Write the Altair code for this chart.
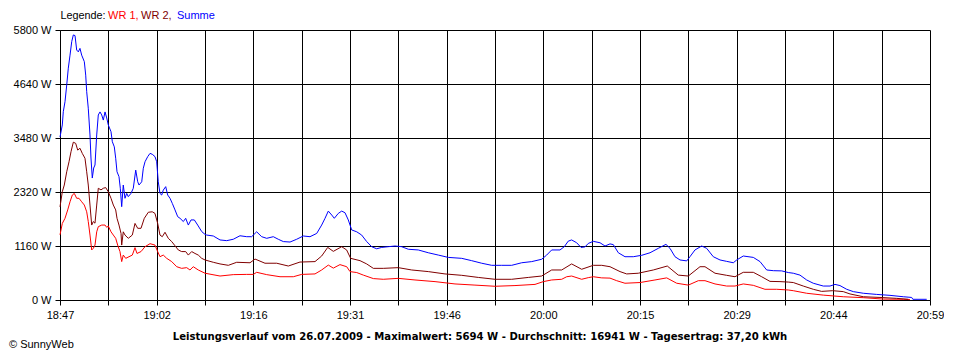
import json
import altair as alt
import pandas as pd

FONT = "Liberation Sans"

# ---- axis text ----
x_labels = ["18:47", "19:02", "19:16", "19:31", "19:46", "20:00", "20:15", "20:29", "20:44", "20:59"]
y_ticks = [0, 1160, 2320, 3480, 4640, 5800]
span_min = 132  # minutes from 18:47 to 20:59
n_x_grid = 18   # vertical grid intervals

title_text = "Leistungsverlauf vom 26.07.2009 - Maximalwert: 5694 W - Durchschnitt: 16941 W - Tagesertrag: 37,20 kWh"

# ---- data: minutes after 18:47, power in W ----
summe_t = [0.0, 0.35, 0.5, 0.76, 1.02, 1.26, 1.52, 1.78, 2.02, 2.28,
           2.53, 2.78, 3.03, 3.29, 3.69, 3.9, 4.05, 4.29, 4.55, 4.7,
           4.9, 5.11, 5.31, 5.57, 5.81, 6.07, 6.33, 6.57, 6.83, 7.09,
           7.33, 7.74, 7.94, 8.24, 8.45, 8.65, 8.95, 9.15, 9.36, 9.6,
           9.86, 10.12, 10.36, 10.77, 11.12, 11.49, 11.79, 11.99, 12.4, 12.64,
           12.9, 13.31, 13.66, 14.0, 14.41, 14.67, 14.91, 15.17, 15.43, 15.67,
           16.04, 16.34, 16.69, 17.04, 17.45, 17.86, 18.21, 18.71, 19.07, 19.47,
           19.88, 20.38, 20.89, 21.5, 22.0, 22.26, 23.26, 24.28, 25.29, 26.29,
           27.31, 28.33, 29.08, 29.84, 30.6, 31.36, 32.36, 33.12, 33.88, 34.9,
           35.91, 36.91, 37.93, 38.95, 39.7, 40.21, 40.71, 41.23, 41.62, 42.22,
           42.74, 43.24, 43.74, 44.26, 45.02, 45.77, 46.53, 47.29, 48.05, 48.81,
           49.81, 50.83, 51.84, 52.85, 54.36, 55.88, 57.4, 58.91, 60.95, 62.46,
           63.98, 65.5, 67.02, 68.53, 70.05, 71.57, 73.08, 73.84, 74.6, 75.86,
           76.51, 77.12, 77.63, 78.39, 79.05, 79.65, 80.15, 80.91, 81.93, 82.69,
           83.45, 83.95, 84.71, 85.72, 86.98, 88.26, 89.52, 90.78, 91.94, 92.55,
           93.31, 94.07, 95.09, 95.58, 96.34, 97.36, 98.11, 99.12, 100.14, 101.15,
           102.16, 102.67, 103.67, 105.19, 106.21, 107.22, 108.23, 109.5, 110.5, 111.26,
           112.27, 113.29, 114.29, 115.81, 116.83, 117.59, 118.34, 119.36, 120.36, 121.88,
           123.91, 125.93, 127.95, 129.22, 129.4, 131.5]
summe_w = [3500, 3760, 4045, 4260, 4620, 4980, 5260, 5550, 5694, 5680,
           5370, 5330, 5405, 5260, 5120, 4830, 4475, 4120, 3545, 3050,
           2620, 2835, 2900, 3545, 3975, 4040, 3975, 3865, 4040, 3910,
           3760, 3615, 3400, 3290, 3045, 2755, 2650, 2400, 2005, 2470,
           2185, 2290, 2220, 2290, 2400, 2790, 2540, 2470, 2540, 2830,
           2970, 3080, 3150, 3130, 3080, 2970, 2540, 2290, 2255, 2360,
           2435, 2255, 2185, 2075, 1935, 1790, 1755, 1685, 1755, 1610,
           1720, 1720, 1610, 1470, 1410, 1395, 1375, 1290, 1275, 1305,
           1380, 1360, 1360, 1465, 1360, 1325, 1360, 1305, 1255, 1245,
           1305, 1375, 1360, 1430, 1610, 1755, 1910, 1825, 1755, 1860,
           1910, 1875, 1720, 1505, 1465, 1395, 1255, 1145, 1100, 1130,
           1145, 1160, 1145, 1090, 1075, 1015, 965, 915, 895, 845,
           790, 745, 745, 745, 800, 825, 875, 965, 1075, 1075,
           1145, 1265, 1290, 1230, 1130, 1140, 1215, 1260, 1230, 1160,
           1205, 1190, 1015, 930, 930, 960, 1015, 1110, 1195, 1110,
           930, 860, 840, 930, 1075, 1160, 1110, 930, 860, 830,
           800, 860, 945, 915, 825, 645, 630, 625, 590, 575,
           535, 430, 360, 300, 300, 335, 310, 230, 180, 145,
           120, 100, 70, 55, 15, 15]

wr1_t = [0.0, 0.35, 0.76, 1.17, 1.52, 1.87, 2.17, 2.53, 2.88, 3.29,
         3.69, 4.05, 4.29, 4.55, 4.81, 5.05, 5.31, 5.57, 5.81, 6.33,
         6.83, 7.09, 7.33, 7.74, 8.09, 8.45, 8.75, 9.1, 9.36, 9.6,
         9.97, 10.47, 10.97, 11.38, 11.68, 12.29, 12.9, 13.66, 14.41, 14.82,
         15.17, 15.67, 16.19, 16.95, 17.71, 18.46, 19.22, 19.72, 20.22, 20.98,
         22.0, 24.28, 26.29, 28.33, 29.33, 29.84, 31.36, 33.38, 35.4, 36.67,
         38.69, 39.7, 40.71, 41.47, 42.48, 43.5, 44.0, 45.02, 46.02, 47.54,
         49.05, 51.33, 53.86, 56.9, 59.93, 62.96, 66.0, 69.03, 72.07, 73.33,
         74.6, 76.12, 76.88, 77.63, 79.15, 80.15, 80.91, 82.19, 83.45, 84.46,
         85.72, 88.0, 90.27, 92.05, 93.57, 95.33, 96.85, 97.86, 99.38, 101.15,
         102.41, 103.67, 105.19, 106.96, 108.74, 110.5, 111.26, 113.29, 115.81, 118.84,
         121.88, 124.91, 127.95, 128.96]
wr1_w = [1400, 1645, 1755, 1935, 2110, 2255, 2290, 2185, 2185, 2110,
         2040, 1895, 1685, 1395, 1075, 1110, 1180, 1465, 1575, 1610,
         1610, 1560, 1590, 1465, 1395, 1325, 1180, 1040, 825, 965,
         895, 930, 965, 1125, 1000, 1040, 1145, 1210, 1180, 1040,
         930, 965, 895, 825, 715, 680, 695, 645, 715, 645,
         575, 515, 545, 550, 550, 595, 545, 500, 500, 550,
         560, 645, 750, 685, 760, 715, 610, 590, 535, 460,
         445, 465, 430, 395, 345, 320, 295, 310, 335, 395,
         430, 445, 500, 515, 445, 480, 500, 475, 470, 415,
         360, 375, 430, 475, 360, 320, 415, 415, 345, 300,
         300, 345, 315, 230, 230, 215, 200, 145, 105, 70,
         50, 20, 15, 10]

wr2_t = [0.0, 0.35, 0.65, 1.02, 1.37, 1.67, 2.02, 2.38, 2.69, 3.03,
         3.38, 3.79, 4.05, 4.29, 4.55, 4.81, 5.05, 5.31, 5.57, 5.81,
         6.22, 6.57, 6.93, 7.33, 7.74, 8.09, 8.45, 8.65, 8.95, 9.26,
         9.36, 9.6, 9.86, 10.36, 10.97, 11.38, 11.79, 12.29, 12.79, 13.4,
         14.0, 14.41, 14.82, 15.17, 15.52, 15.93, 16.43, 16.95, 17.45, 17.95,
         18.46, 19.07, 19.47, 19.98, 20.48, 20.98, 21.5, 22.0, 23.26, 24.28,
         25.54, 26.81, 28.83, 29.59, 31.1, 32.88, 34.64, 36.41, 38.69, 39.7,
         40.62, 41.47, 42.74, 43.49, 44.1, 45.52, 46.53, 47.54, 49.05, 51.33,
         53.36, 55.88, 58.41, 60.95, 63.47, 66.0, 68.53, 71.05, 73.08, 74.6,
         76.12, 77.63, 79.15, 80.91, 82.19, 83.45, 84.97, 85.98, 87.74, 90.02,
         92.14, 93.81, 95.33, 97.1, 97.86, 99.38, 101.15, 102.41, 103.67, 105.19,
         106.46, 107.72, 109.24, 110.5, 111.26, 112.77, 114.29, 115.55, 117.25, 118.84,
         119.86, 121.88, 124.41, 126.95, 128.71]
wr2_w = [2000, 2325, 2470, 2755, 2970, 3185, 3390, 3365, 3220, 3260,
         3150, 3045, 2755, 2470, 2040, 1610, 1685, 1650, 2040, 2400,
         2365, 2400, 2415, 2325, 2185, 2040, 1935, 1755, 1610, 1430,
         1180, 1465, 1395, 1325, 1395, 1645, 1540, 1540, 1755, 1885,
         1895, 1860, 1645, 1395, 1360, 1455, 1325, 1255, 1165, 1075,
         1040, 1040, 965, 1040, 1000, 965, 895, 860, 810, 775,
         745, 810, 800, 880, 790, 790, 730, 815, 825, 945,
         1130, 1045, 1145, 1075, 895, 845, 775, 680, 680, 695,
         645, 610, 560, 530, 485, 445, 445, 485, 515, 645,
         645, 775, 660, 745, 745, 715, 610, 560, 575, 645,
         730, 535, 515, 715, 715, 575, 530, 500, 595, 595,
         500, 400, 395, 385, 375, 300, 230, 185, 200, 180,
         130, 70, 55, 35, 15]

series = [
    ("WR 1", wr1_t, wr1_w, "#ff0000"),
    ("WR 2", wr2_t, wr2_w, "#800000"),
    ("Summe", summe_t, summe_w, "#0000ff"),
]

frames = []
for name, ts, ws, _ in series:
    frames.append(pd.DataFrame({"series": name, "t": ts, "w": ws}))
df = pd.concat(frames, ignore_index=True)

x_tick_vals = [i * span_min / n_x_grid for i in range(n_x_grid + 1)]
k = len(x_labels) - 1
label_expr = (
    f"abs(datum.value*{k}/{span_min} - round(datum.value*{k}/{span_min})) < 0.01 ? "
    f"{json.dumps(x_labels)}[round(datum.value*{k}/{span_min})] : ''"
)

x_enc = alt.X(
    "t:Q",
    scale=alt.Scale(domain=[0, span_min], nice=False, zero=False),
    axis=alt.Axis(
        values=x_tick_vals, labelExpr=label_expr, title=None,
        grid=True, gridColor="black", gridOpacity=1, gridWidth=1,
        domainColor="black", tickColor="black", tickSize=5,
        labelFont=FONT, labelFontSize=11, labelColor="black",
        labelPadding=4, labelOverlap=False, labelFlush=False,
    ),
)
y_enc = alt.Y(
    "w:Q",
    scale=alt.Scale(domain=[0, 5800], nice=False),
    axis=alt.Axis(
        values=y_ticks, format="d", labelExpr="datum.label + ' W'", title=None,
        grid=True, gridColor="black", gridOpacity=1, gridWidth=1,
        domainColor="black", tickColor="black", tickSize=5,
        labelFont=FONT, labelFontSize=11, labelColor="black",
        labelPadding=4, labelFlush=False,
    ),
)

layers = []
for name, _, _, color in series:
    layers.append(
        alt.Chart(df)
        .transform_filter(alt.datum.series == name)
        .mark_line(color=color, strokeWidth=1, interpolate="linear")
        .encode(x=x_enc, y=y_enc)
    )


def text_layer(txt, x, y, color="black", bold=False, align="left",
               baseline="middle", font=FONT, size=11):
    return (
        alt.Chart(pd.DataFrame({"s": [txt]}))
        .mark_text(align=align, baseline=baseline, font=font, fontSize=size,
                   fontWeight="bold" if bold else "normal", color=color)
        .encode(x=alt.value(x), y=alt.value(y), text="s:N")
    )


layers += [
    text_layer("Legende:", 0.5, -14, size=10.8),
    text_layer("WR 1,", 48, -14, color="#ff0000"),
    text_layer("WR 2,", 81, -14, color="#800000"),
    text_layer("Summe", 117, -14, color="#0000ff"),
    text_layer(title_text, 420, 309.5, bold=True, align="center",
               baseline="alphabetic", font="DejaVu Sans", size=10.1),
    text_layer("\u00a9 SunnyWeb", -51, 317.5, baseline="alphabetic"),
]

chart = (
    alt.layer(*layers)
    .properties(
        width=870, height=270,
        padding={"left": 52, "top": 22, "right": 14, "bottom": 50},
        autosize=alt.AutoSizeParams(type="none"),
        background="white",
    )
    .configure_view(stroke="transparent")
)

chart.save("out.html", embed_options={"renderer": "svg", "actions": False})
